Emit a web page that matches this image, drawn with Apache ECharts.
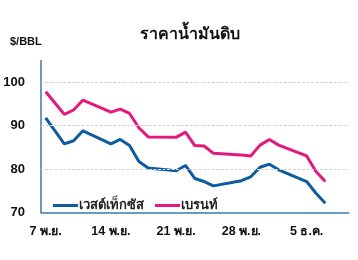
<!DOCTYPE html>
<html><head><meta charset="utf-8">
<script src="https://cdn.jsdelivr.net/npm/echarts@6/dist/echarts.min.js"></script>
<style>html,body{margin:0;padding:0;background:#fff}#c{width:358px;height:260px}</style>
</head><body><div id="c"></div>
<script>
// calendar days 7 Nov .. 9 Dec
const days = ['7 พ.ย.','8','9','10','11','12','13','14 พ.ย.','15','16','17','18','19','20','21 พ.ย.','22','23','24','25','26','27','28 พ.ย.','29','30','1','2','3','4','5 ธ.ค.','6','7','8','9'];
const tickLabels = ['7 พ.ย.','14 พ.ย.','21 พ.ย.','28 พ.ย.','5 ธ.ค.'];
const wti   = [91.8,88.8,85.8,86.5,88.8,null,null,85.8,86.8,85.4,81.7,80.2,null,null,79.6,80.8,77.8,77.1,76.1,null,null,77.3,78.2,80.4,81.1,79.8,null,null,77.1,74.4,72.1,null,null];
const brent = [97.8,95.2,92.6,93.6,95.9,null,null,93.1,93.8,92.8,89.5,87.4,null,null,87.3,88.5,85.4,85.3,83.6,null,null,83.2,83.0,85.5,86.8,85.5,null,null,83.0,79.4,77.1,null,null];
const seriesNames = ['เวสต์เท็กซัส','เบรนท์'];
const yTicks = [70,80,90,100];
const gridValues = [80,90,100];

const chart = echarts.init(document.getElementById('c'), null, {renderer:'canvas'});
const font = 'sans-serif';
chart.setOption({
  animation:false,
  title:{text:'ราคาน้ำมันดิบ', left:185, top:22, textAlign:'center',
    textStyle:{fontSize:16, fontWeight:'bold', color:'#111', fontFamily:font}},
  graphic:[{type:'text', left:10, top:36, style:{text:'$/BBL', font:'bold 11px '+font, fill:'#111'}}],
  grid:{left:41, right:9.4, top:60.6, bottom:47.7},
  legend:{left:48, top:194, icon:'rect', itemWidth:25, itemHeight:3, itemGap:11,
    data:seriesNames, textStyle:{fontSize:13, fontWeight:'bold', color:'#222', fontFamily:font, padding:[0,0,0,-4]}},
  xAxis:{type:'category', data:days, boundaryGap:true,
    axisLine:{lineStyle:{color:'#3b78b5', width:1.5}},
    axisTick:{interval:6, length:5, lineStyle:{color:'#3b78b5', width:1.5}},
    axisLabel:{interval:0, margin:13, fontSize:12.5, fontWeight:'bold', color:'#111', fontFamily:font,
      formatter:v=>tickLabels.includes(v)?v:''},
    splitLine:{show:false}},
  yAxis:{type:'value', min:70, max:105, interval:10,
    axisLine:{show:true, lineStyle:{color:'#3b78b5', width:1.5}},
    axisTick:{show:false},
    axisLabel:{margin:16, fontSize:13, fontWeight:'bold', color:'#111', fontFamily:font, showMaxLabel:false,
      formatter:v=>yTicks.includes(v)?String(v):''},
    splitLine:{show:false}},
  series:[
    {name:'grid', type:'line', data:[], z:1, silent:true,
      markLine:{silent:true, symbol:'none', label:{show:false}, animation:false,
        lineStyle:{color:'#d2d2d2', type:[3,1.5], width:1},
        data:gridValues.map(v=>({yAxis:v}))}},
    {name:seriesNames[0], type:'line', data:wti, connectNulls:true, symbol:'none', z:3,
      lineStyle:{color:'#0d5c9e', width:3}, itemStyle:{color:'#0d5c9e'}},
    {name:seriesNames[1], type:'line', data:brent, connectNulls:true, symbol:'none', z:3,
      lineStyle:{color:'#e5187f', width:3}, itemStyle:{color:'#e5187f'}}
  ]
});
</script></body></html>
